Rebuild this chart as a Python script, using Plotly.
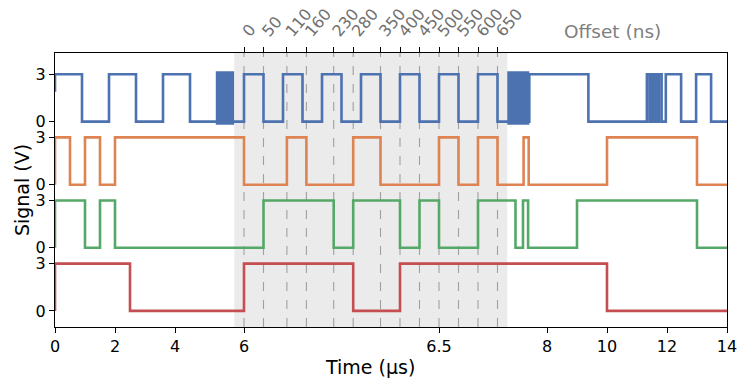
import numpy as np
import plotly.graph_objects as go

# ---- data -----------------------------------------------------------------
# edge times (us) and the level (V) each channel takes from that time on
blue_t = [0, 0, 0.9, 1.8, 2.7, 3.6, 4.5,
          6.00, 6.05, 6.10, 6.15, 6.20, 6.25, 6.30, 6.35, 6.40, 6.45, 6.50, 6.55, 6.60, 6.65,
          7.41, 9.38, 11.33, 11.42, 11.46, 11.54, 11.60, 11.66, 11.73, 11.82,
          11.96, 12.47, 12.97, 13.47]
blue_v = [1.9, 3, 0, 3, 0, 3, 0,
          3, 0, 3, 0, 3, 0, 3, 0, 3, 0, 3, 0, 3, 0,
          3, 0, 3, 0, 3, 0, 3, 0, 3, 0,
          3, 0, 3, 0]
blue_bursts = [(5.36, 5.97), (6.675, 7.41)]   # fast toggling, drawn as solid blocks

orange_t = [0, 0, 0.5, 1.0, 1.5, 2.0, 6.0, 6.11, 6.16, 6.28, 6.35, 6.50, 6.55, 6.60, 6.65,
            7.22, 7.39, 10.0, 13.0]
orange_v = [0, 3, 0, 3, 0, 3, 0, 3, 0, 3, 0, 3, 0, 3, 0, 3, 0, 3, 0]

green_t = [0, 0, 1.0, 1.5, 2.0, 6.05, 6.23, 6.28, 6.40, 6.45, 6.50, 6.60, 6.95,
           7.20, 7.37, 9.0, 13.0]
green_v = [0, 3, 0, 3, 0, 3, 0, 3, 0, 3, 0, 3, 0, 3, 0, 3, 0]

red_t = [0, 0, 2.5, 6.0, 6.28, 6.40, 10.0]
red_v = [0, 3, 0, 3, 0, 3, 0]

channel_offsets = [12, 8, 4, 0]           # vertical stacking (V)
offsets_ns = [0, 50, 110, 160, 230, 280, 350, 400, 450, 500, 550, 600, 650]
offset_origin = 6.0                       # us
time_ticks = [0, 2, 4, 6, 6.5, 8, 10, 12, 14]
t_end = 14.0

# zoomed window of the time axis
ZOOM_A, ZOOM_B, ZOOM_K = 5.975, 6.675, 13.0

colors = ['#4C72B0', '#DD8452', '#55A868', '#C44E52']
FONT = 'DejaVu Sans'


def warp(t):
    """Piecewise time axis: stretched by ZOOM_K inside the shaded window."""
    t = np.asarray(t, dtype=float)
    inside = ZOOM_A + (t - ZOOM_A) * ZOOM_K
    after = ZOOM_A + (ZOOM_B - ZOOM_A) * ZOOM_K + (t - ZOOM_B)
    return np.where(t <= ZOOM_A, t, np.where(t <= ZOOM_B, inside, after))


fig = go.Figure()

channels = [(blue_t, blue_v), (orange_t, orange_v), (green_t, green_v), (red_t, red_v)]
for (ts, vs), off, col in zip(channels, channel_offsets, colors):
    x = warp(list(ts) + [t_end])
    y = np.array(list(vs) + [vs[-1]]) + off
    fig.add_trace(go.Scatter(x=x, y=y, mode='lines', line=dict(color=col, width=2.6, shape='hv'),
                             showlegend=False, hoverinfo='skip'))

for s, e in blue_bursts:
    xs = warp([s, e, e, s, s])
    ys = np.array([-0.2, -0.2, 3.2, 3.2, -0.2]) + channel_offsets[0]
    fig.add_trace(go.Scatter(x=xs, y=ys, mode='lines', fill='toself', fillcolor=colors[0],
                             line=dict(width=0, color=colors[0]), showlegend=False, hoverinfo='skip'))

# shaded zoom window and dashed offset markers
fig.add_shape(type='rect', xref='x', yref='paper', x0=float(warp(ZOOM_A)), x1=float(warp(ZOOM_B)),
              y0=0, y1=1, fillcolor='#ebebeb', line_width=0, layer='below')
off_x = warp(offset_origin + np.array(offsets_ns) / 1000.0)
for xv in off_x:
    fig.add_shape(type='line', xref='x', yref='paper', x0=float(xv), x1=float(xv), y0=0, y1=1,
                  line=dict(color='#a0a0a0', width=1.1, dash='dash'), layer='below')

# invisible trace to activate the top axis
fig.add_trace(go.Scatter(x=[0, float(warp(t_end))], y=[None, None], xaxis='x2', showlegend=False,
                         hoverinfo='skip'))

xr = [0, float(warp(t_end))]
ytick_vals = []
ytick_text = []
for off in channel_offsets:
    ytick_vals += [off, off + 3]
    ytick_text += ['0', '3']

# the page body adds an 8 px margin, so the figure is 8 px smaller and shifted
fig.update_layout(
    width=740, height=380,
    margin=dict(l=47, r=21, t=45, b=61),
    plot_bgcolor='white', paper_bgcolor='white',
    font=dict(family=FONT, size=16, color='black'),
    xaxis=dict(range=xr, tickvals=warp(time_ticks), ticktext=[f'{v:g}' for v in time_ticks],
               showline=True, linecolor='black', linewidth=1, mirror=True, automargin=False,
               ticks='outside', ticklen=5, tickcolor='black', showgrid=False, zeroline=False,
               tickfont=dict(size=16)),
    xaxis2=dict(range=xr, overlaying='x', side='top', tickvals=off_x, automargin=False,
                ticktext=[str(v) for v in offsets_ns], tickangle=-50,
                ticks='outside', ticklen=5, tickcolor='black', showgrid=False, zeroline=False,
                showline=False, tickfont=dict(size=16, color='#707070')),
    yaxis=dict(range=[-1.02, 16.35], tickvals=ytick_vals, ticktext=ytick_text, automargin=False,
               showline=True, linecolor='black', linewidth=1, mirror=True,
               ticks='outside', ticklen=5, tickcolor='black', showgrid=False, zeroline=False,
               tickfont=dict(size=16)),
    annotations=[
        dict(text='Time (µs)', xref='paper', yref='paper', x=0.469, y=-0.147, xanchor='center',
             yanchor='middle', showarrow=False, font=dict(size=19)),
        dict(text='Signal (V)', xref='paper', yref='paper', x=-0.049, y=0.5, xanchor='center',
             yanchor='middle', textangle=-90, showarrow=False, font=dict(size=19)),
        dict(text='Offset (ns)', xref='paper', yref='paper', x=0.83, y=1.08, xanchor='center',
             yanchor='middle', showarrow=False, font=dict(size=18.5, color='#808080')),
    ],
)

fig.write_html('out.html')
